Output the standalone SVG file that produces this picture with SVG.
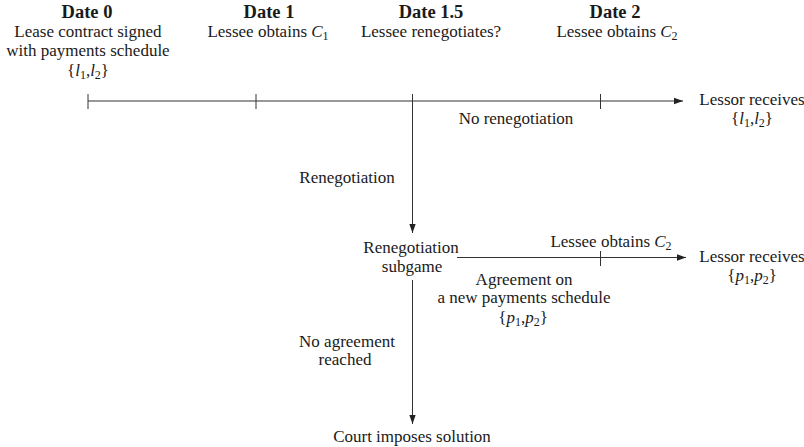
<svg xmlns="http://www.w3.org/2000/svg" width="804" height="447" viewBox="0 0 804 447">
<defs>
<marker id="ah" viewBox="0 0 10 10" refX="10" refY="5" markerWidth="9" markerHeight="9" markerUnits="userSpaceOnUse" orient="auto">
<path d="M0,1.5 L10,5 L0,8.5 Z" fill="#222"/>
</marker>
<style>
text{font-size:17px;fill:#1a1a1a;text-anchor:middle}
.b{font-weight:bold;font-size:18.5px}
.i{font-style:italic}
.s{font-size:12px}
line{stroke:#333;stroke-width:1;fill:none}
.ar{marker-end:url(#ah)}
</style>
</defs>
<g id="connectors">
<line class="ar" x1="88" y1="101" x2="683" y2="101"/>
<line x1="88" y1="94" x2="88" y2="109"/>
<line x1="256" y1="94" x2="256" y2="109"/>
<line x1="600.5" y1="94" x2="600.5" y2="109"/>
<line class="ar" x1="412.5" y1="94" x2="412.5" y2="233"/>
<line class="ar" x1="457" y1="257.5" x2="686" y2="257.5"/>
<line x1="600.5" y1="251" x2="600.5" y2="266"/>
<line class="ar" x1="412.5" y1="280" x2="412.5" y2="424"/>
</g>
<g id="date0">
<text font-family="Liberation Serif, serif" class="b" x="87" y="18">Date 0</text>
<text font-family="Liberation Serif, serif" x="88" y="37">Lease contract signed</text>
<text font-family="Liberation Serif, serif" x="88" y="56">with payments schedule</text>
<text font-family="Liberation Serif, serif" x="88" y="76">{<tspan class="i">l</tspan><tspan class="s" dy="3">1</tspan><tspan dy="-3">,</tspan><tspan class="i">l</tspan><tspan class="s" dy="3">2</tspan><tspan dy="-3">}</tspan></text>
</g>
<g id="date1">
<text font-family="Liberation Serif, serif" class="b" x="269" y="18">Date 1</text>
<text font-family="Liberation Serif, serif" x="268" y="37">Lessee obtains <tspan class="i">C</tspan><tspan class="s" dy="3">1</tspan></text>
</g>
<g id="date15">
<text font-family="Liberation Serif, serif" class="b" x="431" y="18">Date 1.5</text>
<text font-family="Liberation Serif, serif" x="431" y="37">Lessee renegotiates?</text>
</g>
<g id="date2">
<text font-family="Liberation Serif, serif" class="b" x="615" y="18">Date 2</text>
<text font-family="Liberation Serif, serif" x="617" y="37">Lessee obtains <tspan class="i">C</tspan><tspan class="s" dy="3">2</tspan></text>
</g>
<g id="lessor1">
<text font-family="Liberation Serif, serif" x="752" y="105">Lessor receives</text>
<text font-family="Liberation Serif, serif" x="752" y="124">{<tspan class="i">l</tspan><tspan class="s" dy="3">1</tspan><tspan dy="-3">,</tspan><tspan class="i">l</tspan><tspan class="s" dy="3">2</tspan><tspan dy="-3">}</tspan></text>
</g>
<g id="norenego">
<text font-family="Liberation Serif, serif" x="516" y="124">No renegotiation</text>
</g>
<g id="renego">
<text font-family="Liberation Serif, serif" x="347" y="183">Renegotiation</text>
</g>
<g id="subgame">
<text font-family="Liberation Serif, serif" x="411" y="253">Renegotiation</text>
<text font-family="Liberation Serif, serif" x="412" y="272">subgame</text>
</g>
<g id="c2b">
<text font-family="Liberation Serif, serif" x="611" y="247">Lessee obtains <tspan class="i">C</tspan><tspan class="s" dy="3">2</tspan></text>
</g>
<g id="lessor2">
<text font-family="Liberation Serif, serif" x="752" y="262">Lessor receives</text>
<text font-family="Liberation Serif, serif" x="752" y="281">{<tspan class="i">p</tspan><tspan class="s" dy="3">1</tspan><tspan dy="-3">,</tspan><tspan class="i">p</tspan><tspan class="s" dy="3">2</tspan><tspan dy="-3">}</tspan></text>
</g>
<g id="agreement">
<text font-family="Liberation Serif, serif" x="524" y="285">Agreement on</text>
<text font-family="Liberation Serif, serif" x="524" y="303">a new payments schedule</text>
<text font-family="Liberation Serif, serif" x="523" y="323">{<tspan class="i">p</tspan><tspan class="s" dy="3">1</tspan><tspan dy="-3">,</tspan><tspan class="i">p</tspan><tspan class="s" dy="3">2</tspan><tspan dy="-3">}</tspan></text>
</g>
<g id="noagree">
<text font-family="Liberation Serif, serif" x="347" y="347">No agreement</text>
<text font-family="Liberation Serif, serif" x="345" y="365">reached</text>
</g>
<g id="court">
<text font-family="Liberation Serif, serif" x="412" y="442">Court imposes solution</text>
</g>
</svg>
